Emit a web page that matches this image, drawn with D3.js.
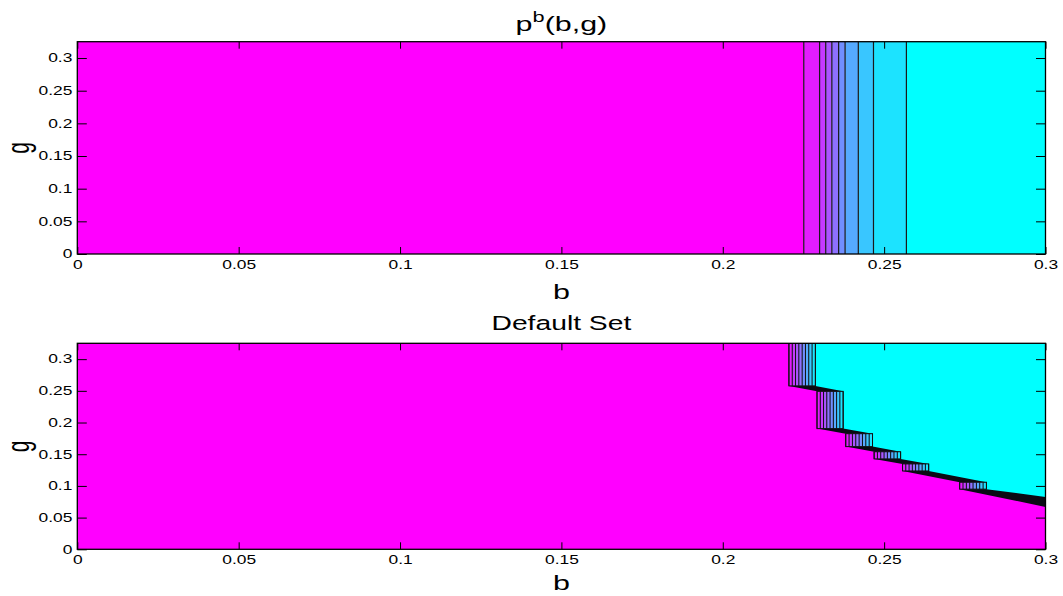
<!DOCTYPE html>
<html><head><meta charset="utf-8">
<script src="https://cdn.jsdelivr.net/npm/d3@7"></script>
<style>
html,body{margin:0;padding:0;background:#fff;}
svg{display:block;}
text{font-family:"Liberation Sans",Arial,Helvetica,sans-serif;fill:#000;}
</style></head>
<body>
<script>
// ---------- data ----------
const bDomain = [0, 0.3];
const gDomain = [0, 0.325];
const xTicks = [0, 0.05, 0.1, 0.15, 0.2, 0.25, 0.3];
const yTicks = [0, 0.05, 0.1, 0.15, 0.2, 0.25, 0.3];
const tickLabels = ["0", "0.05", "0.1", "0.15", "0.2", "0.25", "0.3"];

// top panel: b where p^b(b,g) crosses each contour level (levels high -> low)
const pbContourB = [0.2251, 0.2300, 0.2319, 0.2338, 0.2359, 0.2379, 0.2420, 0.2467, 0.2569];

// bottom panel: staircase steps of the default boundary
const stepB0   = [0.2205, 0.2292, 0.2381, 0.2469, 0.2557, 0.2734];
const stepB1   = [0.2287, 0.2373, 0.2464, 0.2551, 0.2638, 0.2817];
const stepGTop = [0.325, 0.2492, 0.1824, 0.1539, 0.1347, 0.1058];
const stepGBot = [0.2578, 0.1904, 0.1620, 0.1426, 0.1236, 0.0949];
const edgeGTop = 0.0826;   // boundary (cyan side) at b = 0.3
const edgeGBot = 0.0668;   // boundary (magenta side) at b = 0.3

// ---------- layout ----------
const W = 1063, H = 596;
const SX = 1.45; // horizontal text stretch of the original figure
const svg = d3.select("body").append("svg").attr("width", W).attr("height", H);

const x = d3.scaleLinear().domain(bDomain).range([77.3, 1045.5]);
const cool = d3.interpolateRgb("#00ffff", "#ff00ff");
const nLev = pbContourB.length; // 9 lines -> 10 regions

function panel(yTop, yBot, xLabelOff, title, drawFn) {
  const y = d3.scaleLinear().domain(gDomain).range([yBot, yTop]);
  const g = svg.append("g");
  const clipId = "clip" + Math.round(yTop);
  g.append("clipPath").attr("id", clipId).append("rect")
    .attr("x", x(0)).attr("y", y(gDomain[1])).attr("width", x(0.3) - x(0)).attr("height", y(0) - y(gDomain[1]));
  const plot = g.append("g").attr("clip-path", `url(#${clipId})`);
  drawFn(plot, y);

  const fmt = (d) => tickLabels[xTicks.indexOf(d)];
  const ax = g.append("g").attr("transform", `translate(0,${y(0)})`)
    .call(d3.axisBottom(x).tickValues(xTicks).tickFormat(fmt).tickSize(-7).tickSizeOuter(0).tickPadding(6));
  ax.selectAll("text").attr("transform", `scale(${SX},1)`).style("font-size", "12px");
  g.append("g").attr("transform", `translate(0,${y(gDomain[1])})`)
    .call(d3.axisTop(x).tickValues(xTicks).tickFormat("").tickSize(-7).tickSizeOuter(0));
  const ay = g.append("g").attr("transform", `translate(${x(0)},0)`)
    .call(d3.axisLeft(y).tickValues(yTicks).tickFormat((d) => tickLabels[yTicks.indexOf(d)]).tickSize(-9.5).tickSizeOuter(0).tickPadding(0));
  ay.selectAll("text").attr("x", -5 / SX).attr("transform", `scale(${SX},1)`).style("font-size", "12px");
  g.append("g").attr("transform", `translate(${x(0.3)},0)`)
    .call(d3.axisRight(y).tickValues(yTicks).tickFormat("").tickSize(-9.5).tickSizeOuter(0));
  g.selectAll(".domain").remove();
  g.selectAll(".tick line").attr("stroke", "#000").attr("stroke-width", 1);
  g.append("rect").attr("x", x(0)).attr("y", y(gDomain[1]))
    .attr("width", x(0.3) - x(0)).attr("height", y(0) - y(gDomain[1]))
    .attr("fill", "none").attr("stroke", "#000").attr("stroke-width", 1.3);

  const mid = (x(0) + x(0.3)) / 2;
  g.append("text").attr("transform", `translate(${mid},${y(0) + xLabelOff}) scale(${SX},1)`)
    .attr("text-anchor", "middle").style("font-size", "21px").text("b");
  g.append("text").attr("transform", `translate(${29},${(y(0) + y(gDomain[1])) / 2}) scale(${SX},1) rotate(-90)`)
    .attr("text-anchor", "middle").style("font-size", "21px").text("g");
  title(g, mid, y(gDomain[1]));
}

// ---------- top panel ----------
panel(41.7, 254, 45, (g, mid, top) => {
  const t = g.append("text").attr("transform", `translate(${mid},${top - 11}) scale(${SX},1)`)
    .attr("text-anchor", "middle").style("font-size", "21px");
  t.append("tspan").text("p");
  t.append("tspan").attr("dy", -9).style("font-size", "15px").text("b");
  t.append("tspan").attr("dy", 9).text("(b,g)");
}, (plot, y) => {
  const edges = [bDomain[0], ...pbContourB, bDomain[1]];
  plot.selectAll("rect.band").data(d3.range(edges.length - 1)).join("rect")
    .attr("x", (k) => x(edges[k])).attr("width", (k) => x(edges[k + 1]) - x(edges[k]))
    .attr("y", y(gDomain[1])).attr("height", y(0) - y(gDomain[1]))
    .attr("fill", (k) => cool(1 - k / nLev));
  plot.selectAll("line.c").data(pbContourB).join("line")
    .attr("x1", (d) => x(d)).attr("x2", (d) => x(d))
    .attr("y1", y(gDomain[1])).attr("y2", y(0))
    .attr("stroke", "#1a1a1a").attr("stroke-width", 1.2);
});

// ---------- bottom panel ----------
panel(343.3, 549.3, 40.5, (g, mid, top) => {
  g.append("text").attr("transform", `translate(${mid},${top - 13}) scale(${SX},1)`)
    .attr("text-anchor", "middle").style("font-size", "19.5px").text("Default Set");
}, (plot, y) => {
  const gMax = gDomain[1];
  plot.append("rect").attr("x", x(0)).attr("y", y(gMax))
    .attr("width", x(0.3) - x(0)).attr("height", y(0) - y(gMax)).attr("fill", "#0a0a14");
  const line = d3.line().x((p) => x(p[0])).y((p) => y(p[1]));
  const mag = [[0, 0], [0, gMax]];
  stepB0.forEach((b, i) => { mag.push([b, stepGTop[i]], [b, stepGBot[i]]); });
  mag.push([bDomain[1], edgeGBot], [bDomain[1], 0]);
  plot.append("path").attr("d", line(mag) + "Z").attr("fill", cool(1));
  const cy = [];
  stepB1.forEach((b, i) => { cy.push([b, stepGTop[i]], [b, stepGBot[i]]); });
  cy.push([bDomain[1], edgeGTop], [bDomain[1], gMax]);
  plot.append("path").attr("d", line(cy) + "Z").attr("fill", cool(0));
  const nSub = 8;
  stepB0.forEach((b0, i) => {
    const b1 = stepB1[i];
    const sub = d3.scaleLinear().domain([0, nSub]).range([b0, b1]);
    plot.selectAll(null).data(d3.range(nSub)).join("rect")
      .attr("x", (k) => x(sub(k))).attr("width", (k) => x(sub(k + 1)) - x(sub(k)))
      .attr("y", y(stepGTop[i])).attr("height", y(stepGBot[i]) - y(stepGTop[i]))
      .attr("fill", (k) => cool(1 - (k + 1) / (nSub + 1)));
    plot.selectAll(null).data(d3.range(nSub + 1)).join("line")
      .attr("x1", (k) => x(sub(k))).attr("x2", (k) => x(sub(k)))
      .attr("y1", y(stepGTop[i])).attr("y2", y(stepGBot[i]))
      .attr("stroke", "#111").attr("stroke-width", 1);
    plot.append("rect").attr("x", x(b0)).attr("y", y(stepGTop[i]))
      .attr("width", x(b1) - x(b0)).attr("height", y(stepGBot[i]) - y(stepGTop[i]))
      .attr("fill", "none").attr("stroke", "#111").attr("stroke-width", 1);
  });
});
</script>
</body></html>
